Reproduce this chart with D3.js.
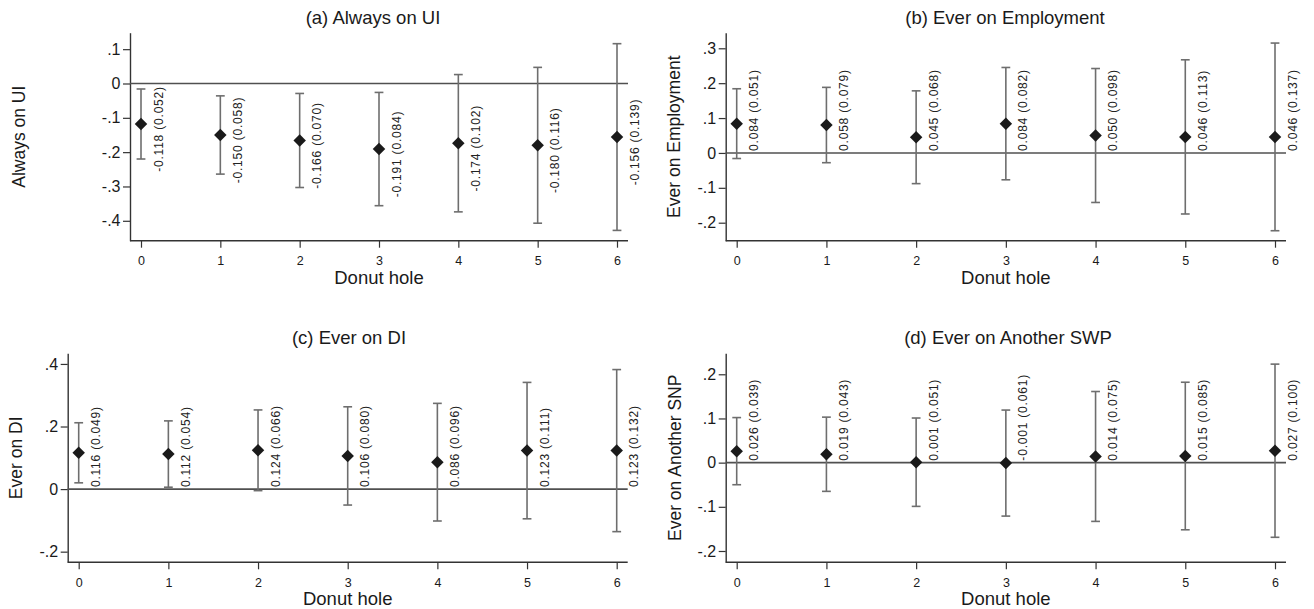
<!DOCTYPE html>
<html><head><meta charset="utf-8">
<script src="https://cdn.jsdelivr.net/npm/d3@7"></script>
<style>
body{margin:0;background:#fff}
svg{display:block}
text{font-family:"Liberation Sans",Arial,Helvetica,sans-serif}
</style>
</head><body>
<svg id="chart" width="1314" height="609"></svg>
<script>
// ---------- data ----------
const holes = [0, 1, 2, 3, 4, 5, 6];
const xTickLabels = ["0", "1", "2", "3", "4", "5", "6"];
const xTitle = "Donut hole";

const panelTitles = ["(a) Always on UI", "(b) Ever on Employment", "(c) Ever on DI", "(d) Ever on Another SWP"];
const yTitles = ["Always on UI", "Ever on Employment", "Ever on DI", "Ever on Another SNP"];

// (a) Always on UI
const estA = [-0.118, -0.150, -0.166, -0.191, -0.174, -0.180, -0.156];
const loA  = [-0.220, -0.264, -0.303, -0.356, -0.374, -0.407, -0.428];
const hiA  = [-0.016, -0.036, -0.029, -0.026, 0.026, 0.047, 0.116];
const labA = ["-0.118 (0.052)", "-0.150 (0.058)", "-0.166 (0.070)", "-0.191 (0.084)", "-0.174 (0.102)", "-0.180 (0.116)", "-0.156 (0.139)"];
const yTicksA = [0.1, 0, -0.1, -0.2, -0.3, -0.4];
const yTickLabA = [".1", "0", "-.1", "-.2", "-.3", "-.4"];

// (b) Ever on Employment
const estB = [0.084, 0.080, 0.045, 0.084, 0.050, 0.046, 0.046];
const loB  = [-0.016, -0.028, -0.088, -0.077, -0.142, -0.175, -0.223];
const hiB  = [0.184, 0.188, 0.178, 0.245, 0.242, 0.267, 0.315];
const labB = ["0.084 (0.051)", "0.058 (0.079)", "0.045 (0.068)", "0.084 (0.082)", "0.050 (0.098)", "0.046 (0.113)", "0.046 (0.137)"];
const yTicksB = [0.3, 0.2, 0.1, 0, -0.1, -0.2];
const yTickLabB = [".3", ".2", ".1", "0", "-.1", "-.2"];

// (c) Ever on DI
const estC = [0.116, 0.112, 0.124, 0.106, 0.086, 0.123, 0.123];
const loC  = [0.020, 0.006, -0.005, -0.051, -0.102, -0.095, -0.136];
const hiC  = [0.212, 0.218, 0.253, 0.263, 0.274, 0.341, 0.382];
const labC = ["0.116 (0.049)", "0.112 (0.054)", "0.124 (0.066)", "0.106 (0.080)", "0.086 (0.096)", "0.123 (0.111)", "0.123 (0.132)"];
const yTicksC = [0.4, 0.2, 0, -0.2];
const yTickLabC = [".4", ".2", "0", "-.2"];

// (d) Ever on Another SWP
const estD = [0.026, 0.019, 0.001, -0.001, 0.014, 0.015, 0.027];
const loD  = [-0.050, -0.065, -0.099, -0.121, -0.133, -0.152, -0.169];
const hiD  = [0.102, 0.103, 0.101, 0.119, 0.161, 0.182, 0.223];
const labD = ["0.026 (0.039)", "0.019 (0.043)", "0.001 (0.051)", "-0.001 (0.061)", "0.014 (0.075)", "0.015 (0.085)", "0.027 (0.100)"];
const yTicksD = [0.2, 0.1, 0, -0.1, -0.2];
const yTickLabD = [".2", ".1", "0", "-.1", "-.2"];

// ---------- layout ----------
const layouts = [
  {left: 130,   right: 628,  top: 32.7,  bottom: 240.7, yDomain: [-0.458, 0.148],  titleX: 373,  yTitleX: 25,  labelMode: "point"},
  {left: 725.7, right: 1286, top: 32.7,  bottom: 240.7, yDomain: [-0.2516, 0.3447], titleX: 1005, yTitleX: 680, labelMode: "zero"},
  {left: 67.7,  right: 627.7, top: 353.3, bottom: 562.3, yDomain: [-0.234, 0.434],  titleX: 349,  yTitleX: 21.5, labelMode: "zero"},
  {left: 725.7, right: 1286, top: 353.3, bottom: 562.3, yDomain: [-0.2256, 0.2475], titleX: 1008, yTitleX: 680.5, labelMode: "zero"}
];

const panels = [
  {est: estA, lo: loA, hi: hiA, lab: labA, yTicks: yTicksA, yTickLab: yTickLabA},
  {est: estB, lo: loB, hi: hiB, lab: labB, yTicks: yTicksB, yTickLab: yTickLabB},
  {est: estC, lo: loC, hi: hiC, lab: labC, yTicks: yTicksC, yTickLab: yTickLabC},
  {est: estD, lo: loD, hi: hiD, lab: labD, yTicks: yTicksD, yTickLab: yTickLabD}
];

const svg = d3.select("#chart");
const axisColor = "#333";
const barColor = "#6e6e6e";
const zeroColor = "#505050";
const markColor = "#1a1a1a";
const diamond = d3.symbol().type(d3.symbolSquare).size(78);

panels.forEach((p, k) => {
  const L = layouts[k];
  const g = svg.append("g");
  const pad = 11;
  const x = d3.scaleLinear().domain([0, 6]).range([L.left + pad, L.right - pad]);
  const y = d3.scaleLinear().domain(L.yDomain).range([L.bottom, L.top]);

  // title
  g.append("text").attr("x", L.titleX).attr("y", L.top - 9)
    .attr("text-anchor", "middle").attr("font-size", 18.5).attr("fill", "#1a1a1a")
    .text(panelTitles[k]);

  // y axis
  const yAx = g.append("g").attr("transform", `translate(${L.left},0)`)
    .call(d3.axisLeft(y).tickValues(p.yTicks)
      .tickFormat((d, i) => p.yTickLab[i]).tickSize(7).tickSizeOuter(0).tickPadding(2.5));
  yAx.select(".domain").attr("stroke", axisColor).attr("stroke-width", 1.4);
  yAx.selectAll(".tick line").attr("stroke", axisColor).attr("stroke-width", 1.2);
  yAx.selectAll(".tick text").attr("font-size", 16).attr("fill", "#1a1a1a")
    .attr("font-family", "'Liberation Sans', Arial, sans-serif");

  // x axis
  const xAx = g.append("g").attr("transform", `translate(0,${L.bottom})`)
    .call(d3.axisBottom(x).tickValues(holes)
      .tickFormat((d, i) => xTickLabels[i]).tickSize(7).tickPadding(8.5));
  xAx.select(".domain").remove();
  xAx.selectAll(".tick line").attr("stroke", axisColor).attr("stroke-width", 1.2);
  xAx.selectAll(".tick text").attr("font-size", 12.5).attr("fill", "#1a1a1a")
    .attr("font-family", "'Liberation Sans', Arial, sans-serif");
  g.append("line").attr("x1", L.left).attr("x2", L.right)
    .attr("y1", L.bottom).attr("y2", L.bottom)
    .attr("stroke", axisColor).attr("stroke-width", 1.4);

  // axis titles
  g.append("text").attr("x", (L.left + L.right) / 2).attr("y", L.bottom + 43)
    .attr("text-anchor", "middle").attr("font-size", 18.5).attr("fill", "#1a1a1a").text(xTitle);
  g.append("text")
    .attr("transform", `translate(${L.yTitleX},${(L.top + L.bottom) / 2}) rotate(-90)`)
    .attr("text-anchor", "middle").attr("font-size", 17.5).attr("fill", "#1a1a1a").text(yTitles[k]);

  // zero line
  g.append("line").attr("x1", L.left).attr("x2", L.right)
    .attr("y1", y(0)).attr("y2", y(0))
    .attr("stroke", zeroColor).attr("stroke-width", 1.6);

  // error bars
  const eb = g.append("g").attr("stroke", barColor).attr("stroke-width", 1.6).attr("fill", "none");
  holes.forEach((h, i) => {
    const cx = x(h);
    eb.append("line").attr("x1", cx).attr("x2", cx).attr("y1", y(p.lo[i])).attr("y2", y(p.hi[i]));
    eb.append("line").attr("x1", cx - 4.4).attr("x2", cx + 4.4).attr("y1", y(p.lo[i])).attr("y2", y(p.lo[i]));
    eb.append("line").attr("x1", cx - 4.4).attr("x2", cx + 4.4).attr("y1", y(p.hi[i])).attr("y2", y(p.hi[i]));
  });

  // markers
  g.append("g").selectAll("path").data(holes).join("path")
    .attr("d", diamond)
    .attr("transform", (h, i) => `translate(${x(h)},${y(p.est[i])}) rotate(45)`)
    .attr("fill", markColor);

  // value labels
  g.append("g").selectAll("text").data(holes).join("text")
    .attr("transform", (h, i) => {
      const ty = L.labelMode === "point" ? y(p.est[i]) + 5 : y(0) - 2;
      return `translate(${x(h) + 21.5},${ty}) rotate(-90)`;
    })
    .attr("text-anchor", L.labelMode === "point" ? "middle" : "start")
    .attr("font-size", 12).attr("letter-spacing", 0.8).attr("fill", "#222")
    .text((h, i) => p.lab[i]);
});
</script>
</body></html>
